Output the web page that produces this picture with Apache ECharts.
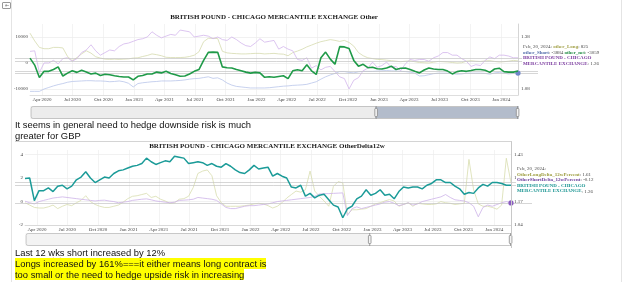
<!DOCTYPE html>
<html><head><meta charset="utf-8">
<script src="https://cdn.jsdelivr.net/npm/echarts@6/dist/echarts.min.js"></script>
<style>
html,body{margin:0;padding:0;background:#fff;}
body{width:625px;height:282px;position:relative;overflow:hidden;font-family:"Liberation Sans",Arial,sans-serif;}
#chart{position:absolute;left:0;top:0;width:625px;height:282px;}
.note{position:absolute;left:15px;font-size:9.4px;line-height:11.4px;color:#111;white-space:nowrap;}
.hl{background:#ffff00;}
.vl{position:absolute;top:0;width:1px;height:282px;background:#e4e4e4;}
.icon{position:absolute;left:2px;top:2px;width:7px;height:5px;border:1px solid #999;border-radius:1px;font-size:5px;line-height:5px;color:#777;text-align:center;}
</style></head>
<body>
<div id="chart"></div>
<div class="vl" style="left:11px"></div>
<div class="vl" style="left:621px"></div>
<div class="icon">&#8676;</div>
<div style="position:absolute;left:15px;top:141px;width:496px;height:106px;border-top:1px solid #d4d4d4;border-right:1px solid #c8c8c8;"></div>
<div class="note" style="top:118.6px">It seems in general need to hedge downside risk is much</div>
<div class="note" style="top:130px">greater for GBP</div>
<div class="note" style="top:246.5px">Last 12 <span style="text-decoration:underline wavy #e03030;text-decoration-thickness:0.7px;text-underline-offset:1px;">wks</span> short increased by 12%</div>
<div class="note" style="top:258px"><span class="hl">Longs increased by 161%===it either means long contract is</span></div>
<div class="note" style="top:269.4px"><span class="hl">too small or the need to hedge upside risk in increasing</span></div>
<script>
// ---------- data (weekly COT report, sampled every 2 weeks from 2020-02-25) ----------
const firstReport = [2020, 2, 25];   // year, month, day
const stepDays = 14;
const quarterTicks = ['2020-04','2020-07','2020-10','2021-01','2021-04','2021-07','2021-10','2022-01',
                      '2022-04','2022-07','2022-10','2023-01','2023-04','2023-07','2023-10','2024-01'];

const otherLong = [
  11470, 8500, 6000, 5500, 5500, 6000, 6000, 5800, 2500, 900,
  2100, 3500, 4700, 3800, 2400, 1900, 1500, 1400, 1500, 1400,
  1500, 1600, 1900, 2000, 2500, 2900, 3500, 3200, 2800, 2200,
  2100, 2100, 2100, 2200, 2500, 3000, 4300, 8200, 9500, 9500,
  9400, 4500, 3900, 3700, 3600, 3500, 3500, 3600, 3700, 3700,
  3500, 3600, 3700, 3500, 3400, 2800, 4000, 4600, 5300, 6200,
  6900, 7600, 8200, 8600, 9000, 8700, 8300, 8700, 7900, 6500,
  4000, 2800, 2000, 1700, 1400, 1300, 1100, 900, 700, 500,
  700, 800, 500, 200, 100, 0, 300, 600, 500, 400,
  200, 0, 100, 700, 900, 700, 600, 800, 900, 600,
  400, 500, 700, 1000, 825];
const otherShort = [
  -10900, -10900, -10900, -10000, -9400, -8800, -8300, -7900, -7400, -7100,
  -7000, -6900, -6800, -6800, -6900, -6900, -7000, -7200, -7100, -6900,
  -7200, -7800, -9200, -7900, -7600, -7400, -7200, -7100, -6900, -6900,
  -6900, -6800, -6700, -6500, -6200, -6000, -5900, -5600, -5300, -5900,
  -5700, -6500, -7700, -8500, -9000, -9200, -9400, -9600, -9600, -9600,
  -9600, -9500, -9300, -9100, -8900, -8800, -8600, -8500, -8400, -8200,
  -7700, -7200, -6200, -5300, -4600, -4000, -3300, -3300, -3600, -3800,
  -3400, -3200, -3200, -3200, -3100, -3000, -2900, -3000, -3100, -3200,
  -3300, -3500, -3900, -5000, -4900, -4500, -4100, -3900, -3900, -3900,
  -4100, -4300, -4200, -3900, -3900, -3900, -3900, -4000, -4300, -3800,
  -3600, -3900, -4200, -4000, -3884];
const otherNet = [
  1870, -800, -5600, -3200, -3200, -2500, -1500, -5000, -3900, -3000,
  -3600, -2800, -3500, -4200, -3900, -4800, -4300, -4500, -4900, -5200,
  -5400, -5400, -6500, -5100, -4800, -4200, -4200, -3500, -3800, -3200,
  -4000, -4500, -5100, -5000, -4200, -3200, -2500, 1000, 4100, 4200,
  4100, -1500, -1800, -1900, -2500, -3000, -3500, -3900, -3600, -3800,
  -5500, -5300, -5500, -5200, -4900, -6000, -3000, -2600, -3000, -700,
  -3000, -4400, 2000, 4200, 1500, -500, 6300, 6200, 5600, 1000,
  -1200, -500, -1800, -1600, -2200, -2300, -1900, -1200, -2500, -2000,
  -1900, -2500, -3200, -3800, -2700, -1900, -2300, -2500, -2500, -3100,
  -4200, -3300, -3000, -3200, -2900, -2500, -2500, -2800, -3600, -2300,
  -2000, -3300, -3500, -3500, -3059];
const gbpPrice = [
  1.297, 1.300, 1.175, 1.230, 1.230, 1.245, 1.225, 1.255, 1.260, 1.240,
  1.255, 1.290, 1.305, 1.335, 1.300, 1.275, 1.290, 1.305, 1.300, 1.325,
  1.340, 1.345, 1.355, 1.365, 1.370, 1.380, 1.410, 1.390, 1.375, 1.385,
  1.395, 1.390, 1.420, 1.415, 1.410, 1.380, 1.385, 1.390, 1.385, 1.370,
  1.380, 1.365, 1.360, 1.380, 1.365, 1.345, 1.330, 1.325, 1.345, 1.370,
  1.350, 1.355, 1.360, 1.310, 1.325, 1.310, 1.300, 1.250, 1.245, 1.260,
  1.200, 1.215, 1.190, 1.205, 1.210, 1.180, 1.150, 1.140, 1.080, 1.130,
  1.145, 1.185, 1.200, 1.235, 1.205, 1.215, 1.235, 1.205, 1.210, 1.185,
  1.225, 1.250, 1.245, 1.250, 1.250, 1.240, 1.260, 1.270, 1.290, 1.290,
  1.275, 1.275, 1.255, 1.240, 1.210, 1.220, 1.215, 1.245, 1.265, 1.255,
  1.275, 1.275, 1.270, 1.260, 1.260];
const longDelta12w = [
  -0.1, -0.3, -0.5, -0.55, -0.55, -0.45, -0.3, -0.6, -0.4, -0.25,
  -0.35, -0.1, 0.1, 0.5, 0.0, -0.25, -0.4, -0.5, -0.5, -0.4,
  -0.3, -0.05, 0.25, 0.45, 0.5, 0.6, 0.7, 0.35, 0.45, 0.2,
  0.05, -0.15, -0.1, 0.2, 0.25, 0.45, 1.2, 2.4, 2.6, 2.7,
  2.2, 0.5, -0.1, -0.4, -0.4, -0.4, -0.4, -0.35, -0.3, -0.2,
  -0.15, -0.2, -0.35, -0.55, -0.4, -0.1, 0.3, 0.6, 0.9, 0.8,
  1.0, 2.6, 0.9, 0.45, 0.05, -0.4, 1.3, 1.7, 1.6, -1.1,
  -0.7, -0.7, -0.65, -0.6, -0.4, -0.2, -0.1, 0.05, 0.17, 0.05,
  -0.4, -0.25, -0.1, -0.4, -0.15, -0.2, -0.25, -0.25, -0.2, 0.0,
  -0.1, -0.15, -0.25, -0.2, -0.15, 3.6, 1.0, -0.2, -0.4, -0.4,
  -0.5, -0.65, -0.3, 3.7, 1.61];
const shortDelta12w = [
  0.03, -0.1, -0.2, 0.0, 0.1, 0.2, 0.3, 0.35, 0.4, 0.35,
  0.3, 0.25, 0.2, 0.15, 0.1, 0.05, 0.1, 0.12, 0.05, 0.0,
  -0.1, -0.05, 0.0, 0.1, 0.15, 0.2, 0.23, 0.15, 0.05, 0.0,
  -0.05, -0.1, -0.05, 0.1, 0.12, 0.15, 0.2, 0.35, 0.3, 0.25,
  0.2, 0.1, -0.2, -0.5, -0.6, -0.6, -0.5, -0.4, -0.35, -0.35,
  -0.3, -0.25, -0.2, -0.1, 0.0, 0.05, 0.1, 0.15, 0.2, 0.25,
  0.3, 0.35, 0.45, 0.65, 0.68, 0.68, 0.7, 0.72, 0.74, -1.2,
  -0.6, -0.45, -0.6, -0.5, -0.4, -0.3, -0.2, -0.05, 0.0, -0.15,
  -0.35, -0.25, -0.1, -0.3, -0.2, 0.0, 0.1, 0.2, 0.3, 0.4,
  0.6, 0.35, 0.15, 0.1, 0.05, -0.1, -0.4, -1.3, -0.5, -0.3,
  -0.4, -0.25, -0.1, 0.0, -0.12];

const title1 = 'BRITISH POUND - CHICAGO MERCANTILE EXCHANGE Other';
const title2 = 'BRITISH POUND - CHICAGO MERCANTILE EXCHANGE OtherDelta12w';
const priceName = 'BRITISH POUND - CHICAGO MERCANTILE EXCHANGE';

// ---------- helpers ----------
const N = otherNet.length;
const dates = [];
for (let i = 0; i < N; i++) dates.push(new Date(firstReport[0], firstReport[1] - 1, firstReport[2] + stepDays * i).getTime());
const tickTimes = quarterTicks.map(s => { const p = s.split('-').map(Number); return new Date(p[0], p[1] - 1, 1).getTime(); });
const MONTHS = ['Jan','Feb','Mar','Apr','May','Jun','Jul','Aug','Sep','Oct','Nov','Dec'];
const fmtMonth = v => { const d = new Date(v); return MONTHS[d.getMonth()] + ' ' + d.getFullYear(); };
const pairs = arr => arr.map((v, i) => [dates[i], v]);
const last = arr => arr[arr.length - 1];
const lastDate = new Date(dates[N - 1]);
const dateLabel = MONTHS[lastDate.getMonth()] + ', ' + lastDate.getDate() + ', ' + lastDate.getFullYear() + ':';

const SERIF = 'Liberation Serif';
const lblBase = {fontSize: 5, fontFamily: SERIF, color: '#444'};

// dates drawn on a numeric (timestamp) axis so that quarter ticks can be placed exactly
function dateAxis(gridIndex, show) {
  const ax = {
    type: 'value', gridIndex, show, min: dates[0], max: dates[N - 1], scale: true,
    axisLine: {onZero: false, lineStyle: {color: '#c8c8c8', width: 0.6}},
    axisTick: {show: false},
    axisLabel: Object.assign({margin: 2.5, formatter: fmtMonth, hideOverlap: false}, lblBase),
    splitLine: {show: show, lineStyle: {color: '#ebebeb', width: 0.6}}
  };
  if (show) { ax.axisTick.customValues = tickTimes; ax.axisLabel.customValues = tickTimes; }
  return ax;
}
function valAxis(gridIndex, position, min, max, ticks, digits, split, show) {
  const ax = {
    type: 'value', gridIndex, position, min, max, show,
    axisLine: {show: position === 'right', onZero: false, lineStyle: {color: '#b8b8b8', width: 0.6}},
    axisTick: {show: false},
    axisLabel: Object.assign({margin: position === 'right' ? 3 : 2,
      formatter: v => digits ? v.toFixed(digits) : String(v)}, lblBase),
    splitLine: {show: split, lineStyle: {color: '#e8e8e8', width: 0.6}}
  };
  if (ticks) { ax.axisTick.customValues = ticks; ax.axisLabel.customValues = ticks; }
  return ax;
}
function lineSeries(name, data, xi, yi, color, width, z) {
  return {name, type: 'line', xAxisIndex: xi, yAxisIndex: yi, data: pairs(data), showSymbol: false,
    symbol: 'none', lineStyle: {color, width}, itemStyle: {color}, z, silent: true};
}
function endDot(arr, color) {
  return {symbol: 'circle', symbolSize: 3.2, silent: true, label: {show: false},
    itemStyle: {color, borderColor: color}, data: [{coord: [dates[N - 1], last(arr)]}]};
}
function guide(values) {
  return {silent: true, symbol: ['none', 'none'], label: {show: false}, animation: false,
    lineStyle: {color: '#c4c4c4', width: 0.7, type: 'solid'}, data: values.map(v => ({yAxis: v}))};
}

const c1Left = [-12300, 15000], c1Right = [1.045, 1.455];
const c2Left = [-2, 4.4], c2Right = [1.04, 1.455];

const option = {
  animation: false,
  textStyle: {fontFamily: SERIF},
  grid: [
    {left: 30, right: 107, top: 24, bottom: 187, outerBoundsMode: 'none'},
    {left: 15, right: 87, top: 24, bottom: 187, outerBoundsMode: 'none'},
    {left: 25, right: 114, top: 150, bottom: 57, outerBoundsMode: 'none'},
    {left: 15, right: 93, top: 150, bottom: 57, outerBoundsMode: 'none'}
  ],
  xAxis: [dateAxis(0, true), dateAxis(1, false), dateAxis(2, true), dateAxis(3, false)],
  yAxis: [
    valAxis(0, 'left', c1Left[0], c1Left[1], [-10000, 0, 10000], 0, true, true),
    valAxis(0, 'right', c1Right[0], c1Right[1], [1.08, 1.23, 1.38], 2, false, true),
    valAxis(1, 'left', c1Left[0], c1Left[1], null, 0, false, false),
    valAxis(1, 'right', c1Right[0], c1Right[1], null, 2, false, false),
    valAxis(2, 'left', c2Left[0], c2Left[1], [-2, 0, 2, 4], 0, true, true),
    valAxis(2, 'right', c2Right[0], c2Right[1], [1.04, 1.17, 1.30, 1.43], 2, false, true),
    valAxis(3, 'left', c2Left[0], c2Left[1], null, 0, false, false),
    valAxis(3, 'right', c2Right[0], c2Right[1], null, 2, false, false)
  ],
  dataZoom: [
    {type: 'slider', xAxisIndex: 1, start: 70.6, end: 100, left: 30, right: 107, top: 106, height: 13,
     showDetail: false, showDataShadow: false, brushSelect: false, moveHandleSize: 0, zoomLock: true,
     borderColor: '#c4c4c4', backgroundColor: '#ececec', borderRadius: 2,
     fillerColor: '#b3bccb',
     handleSize: '100%', handleStyle: {color: '#f4f4f4', borderColor: '#8a8a8a', borderWidth: 0.8}},
    {type: 'slider', xAxisIndex: 3, start: 70.6, end: 100, left: 25, right: 114, top: 233, height: 13,
     showDetail: false, showDataShadow: false, brushSelect: false, moveHandleSize: 2, zoomLock: true,
     moveHandleStyle: {color: '#8b9099', opacity: 1},
     borderColor: '#c8c8c8', backgroundColor: '#f3f3f3', borderRadius: 2,
     fillerColor: 'rgba(255,255,255,0.95)',
     handleSize: '100%', handleStyle: {color: '#f4f4f4', borderColor: '#8a8a8a', borderWidth: 0.8}}
  ],
  series: [
    lineSeries('other_Long', otherLong, 0, 0, '#d6dbae', 0.8, 3),
    Object.assign(lineSeries('other_Short', otherShort, 0, 0, '#b9c5ea', 0.8, 3), {markPoint: endDot(otherShort, '#6f86c8')}),
    lineSeries(priceName, gbpPrice, 0, 1, '#d3b6ec', 0.8, 3),
    lineSeries('other_net', otherNet, 0, 0, '#1f9a48', 1.6, 5),
    Object.assign(lineSeries('guide1', otherNet, 1, 2, 'rgba(0,0,0,0)', 0, 1),
      {lineStyle: {opacity: 0}, markLine: guide([last(otherLong), last(otherShort), last(otherNet)])}),
    Object.assign(lineSeries('guide1p', gbpPrice, 1, 3, 'rgba(0,0,0,0)', 0, 1),
      {lineStyle: {opacity: 0}, markLine: guide([last(gbpPrice)])}),
    lineSeries('OtherLongDelta_12wPercent', longDelta12w, 2, 4, '#d8ddae', 0.8, 3),
    Object.assign(lineSeries('OtherShortDelta_12wPercent', shortDelta12w, 2, 4, '#cdb2e8', 0.8, 3), {markPoint: endDot(shortDelta12w, '#8a5cc0')}),
    lineSeries(priceName + ' ', gbpPrice, 2, 5, '#1b9b98', 1.5, 5),
    Object.assign(lineSeries('guide2', longDelta12w, 3, 6, 'rgba(0,0,0,0)', 0, 1),
      {lineStyle: {opacity: 0}, markLine: guide([last(longDelta12w), last(shortDelta12w)])}),
    Object.assign(lineSeries('guide2p', gbpPrice, 3, 7, 'rgba(0,0,0,0)', 0, 1),
      {lineStyle: {opacity: 0}, markLine: guide([last(gbpPrice)])})
  ],
  graphic: [
    {type: 'text', x: 274, y: 17, z: 100, silent: true,
     style: {text: title1, align: 'center', verticalAlign: 'middle', fontSize: 7, fontWeight: 'bold', fontFamily: SERIF, fill: '#1a1a1a'}},
    {type: 'text', x: 267, y: 146, z: 100, silent: true,
     style: {text: title2, align: 'center', verticalAlign: 'middle', fontSize: 7, fontWeight: 'bold', fontFamily: SERIF, fill: '#1a1a1a'}},
    {type: 'text', x: 522, y: 43.5, z: 100, silent: true,
     style: {
       text: '{d|' + dateLabel + ' }{l|other_Long}{d|: ' + last(otherLong) + '}\n' +
             '{s|other_Short}{d|: ' + last(otherShort) + ' }{n|other_net}{d|: ' + last(otherNet) + '}\n' +
             '{p|BRITISH POUND - CHICAGO}\n{p|MERCANTILE EXCHANGE}{d|: ' + last(gbpPrice).toFixed(2) + '}',
       fontSize: 5, fontFamily: SERIF, lineHeight: 5.6, fill: '#444', backgroundColor: '#fff', padding: [0.5, 1],
       rich: {
         d: {fontSize: 5, fontFamily: SERIF, fill: '#4a4a4a', lineHeight: 5.6},
         l: {fontSize: 5, fontFamily: SERIF, fill: '#a3a24a', fontWeight: 'bold', lineHeight: 5.6},
         s: {fontSize: 5, fontFamily: SERIF, fill: '#4d68a8', fontWeight: 'bold', lineHeight: 5.6},
         n: {fontSize: 5, fontFamily: SERIF, fill: '#1d8a40', fontWeight: 'bold', lineHeight: 5.6},
         p: {fontSize: 5, fontFamily: SERIF, fill: '#7a3a9e', fontWeight: 'bold', lineHeight: 5.6}
       }}},
    {type: 'text', x: 516, y: 165.5, z: 100, silent: true,
     style: {
       text: '{d|' + dateLabel + '}\n' +
             '{l|OtherLongDelta_12wPercent}{d|: ' + last(longDelta12w).toFixed(2) + '}\n' +
             '{s|OtherShortDelta_12wPercent}{d|: ' + last(shortDelta12w).toFixed(2) + '}\n' +
             '{p|BRITISH POUND - CHICAGO}\n{p|MERCANTILE EXCHANGE}{d|: ' + last(gbpPrice).toFixed(2) + '}',
       fontSize: 5, fontFamily: SERIF, lineHeight: 5.6, fill: '#444', backgroundColor: '#fff', padding: [0.5, 1],
       rich: {
         d: {fontSize: 5, fontFamily: SERIF, fill: '#4a4a4a', lineHeight: 5.6},
         l: {fontSize: 5, fontFamily: SERIF, fill: '#9c9c3e', fontWeight: 'bold', lineHeight: 5.6},
         s: {fontSize: 5, fontFamily: SERIF, fill: '#6a3d9c', fontWeight: 'bold', lineHeight: 5.6},
         p: {fontSize: 5, fontFamily: SERIF, fill: '#1a9592', fontWeight: 'bold', lineHeight: 5.6}
       }}}
  ]
};

const chart = echarts.init(document.getElementById('chart'), null, {renderer: 'canvas'});
chart.setOption(option);
</script>
</body></html>
